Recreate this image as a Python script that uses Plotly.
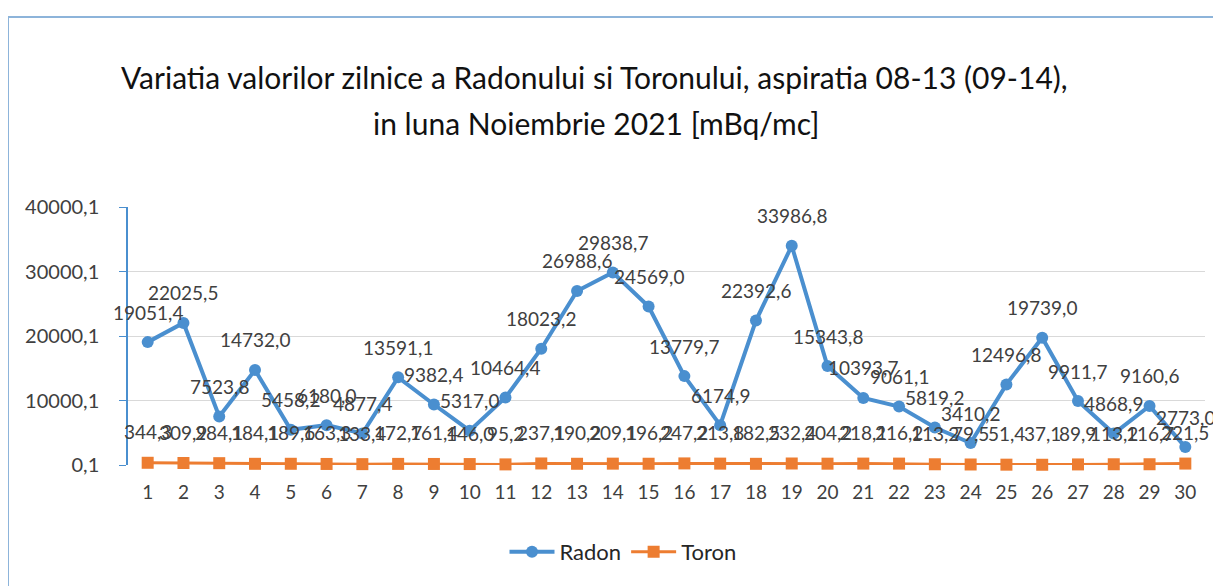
import plotly.graph_objects as go

days = list(range(1, 31))
radon = [19051.4, 22025.5, 7523.8, 14732.0, 5458.2, 6180.0, 4877.4, 13591.1, 9382.4, 5317.0,
         10464.4, 18023.2, 26988.6, 29838.7, 24569.0, 13779.7, 6174.9, 22392.6, 33986.8, 15343.8,
         10393.7, 9061.1, 5819.2, 3410.2, 12496.8, 19739.0, 9911.7, 4868.9, 9160.6, 2773.0]
toron = [344.3, 309.9, 284.1, 184.1, 189.6, 163.3, 133.4, 172.7, 161.4, 146.0,
         95.2, 237.1, 190.2, 209.1, 196.2, 247.2, 213.8, 182.5, 232.4, 204.2,
         218.1, 216.2, 113.2, 79.5, 51.4, 37.1, 89.9, 113.2, 116.7, 221.5]
y_ticks = [0.1, 10000.1, 20000.1, 30000.1, 40000.1]
y_ticktext = ["0,1", "10000,1", "20000,1", "30000,1", "40000,1"]
title_lines = ["Variatia valorilor zilnice a Radonului si Toronului, aspiratia 08-13 (09-14),",
               "in luna Noiembrie 2021 [mBq/mc]"]

BLUE = "#4A8FCF"
ORANGE = "#ED7D31"
TXT = "#404040"
FONT = "Lato, sans-serif"

# page body has an 8px margin; work in screen pixels and convert
OFF = 8
W, H = 1221 - OFF, 586 - OFF
plot_left, plot_right, plot_top, plot_bottom = 128, 1205, 207, 465
L = plot_left - OFF
R = W - (plot_right - OFF)
T = plot_top - OFF
B = H - (plot_bottom - OFF)
pw, ph = W - L - R, H - T - B

def px(x):
    return (x - plot_left) / pw

def py(y):
    return (plot_bottom - y) / ph

fig = go.Figure()
fig.add_trace(go.Scatter(x=days, y=radon, name="Radon", mode="lines+markers",
                         line=dict(color=BLUE, width=4),
                         marker=dict(symbol="circle", size=12, color=BLUE),
                         cliponaxis=False))
fig.add_trace(go.Scatter(x=days, y=toron, name="Toron", mode="lines+markers",
                         line=dict(color=ORANGE, width=3),
                         marker=dict(symbol="square", size=12, color=ORANGE),
                         cliponaxis=False))

annotations = []
for d, v in zip(days, radon):
    annotations.append(dict(x=d, y=v, xref="x", yref="y", text=f"{v:.1f}".replace(".", ","),
                            showarrow=False, yshift=30, font=dict(size=19, color=TXT, family=FONT)))
for d, v in zip(days, toron):
    annotations.append(dict(x=d, y=v, xref="x", yref="y", text=f"{v:.1f}".replace(".", ","),
                            showarrow=False, yshift=31, font=dict(size=19, color=TXT, family=FONT)))
annotations.append(dict(x=px(594), y=py(57), xref="paper", yref="paper", text=title_lines[0],
                        showarrow=False, font=dict(size=30, color="#111111", family=FONT)))
annotations.append(dict(x=px(596), y=py(103), xref="paper", yref="paper", text=title_lines[1],
                        showarrow=False, font=dict(size=30, color="#111111", family=FONT)))

shapes = [
    dict(type="line", xref="paper", yref="paper", x0=px(8), x1=px(1221), y0=py(17), y1=py(17),
         line=dict(color="#8DB4DA", width=2)),
    dict(type="line", xref="paper", yref="paper", x0=px(8), x1=px(8), y0=py(17), y1=py(586),
         line=dict(color="#8DB4DA", width=2)),
]

fig.update_layout(
    width=W, height=H,
    margin=dict(l=L, r=R, t=T, b=B),
    paper_bgcolor="white", plot_bgcolor="white",
    font=dict(family=FONT, size=18, color=TXT),
    separators=",.",
    showlegend=True,
    legend=dict(orientation="h", x=px(623), xanchor="center", y=py(552), yanchor="middle",
                font=dict(size=22, color="#262626"), itemwidth=45),
    annotations=annotations,
    shapes=shapes,
    xaxis=dict(tickmode="array", tickvals=days, ticktext=[str(d) for d in days],
               range=[0.45, 30.55], showgrid=False, showline=False, ticks="",
               ticklabelstandoff=14,
               tickfont=dict(size=19, color=TXT), zeroline=False),
    yaxis=dict(range=[0.1, 40000.1], tickmode="array", tickvals=y_ticks, ticktext=y_ticktext,
               showgrid=True, gridcolor="#D9D9D9", gridwidth=1,
               showline=True, linecolor=BLUE, linewidth=1.5,
               ticks="outside", ticklen=7, tickcolor=BLUE, ticklabelstandoff=16,
               tickfont=dict(size=20, color=TXT), zeroline=False),
)

fig.write_html("out.html")
